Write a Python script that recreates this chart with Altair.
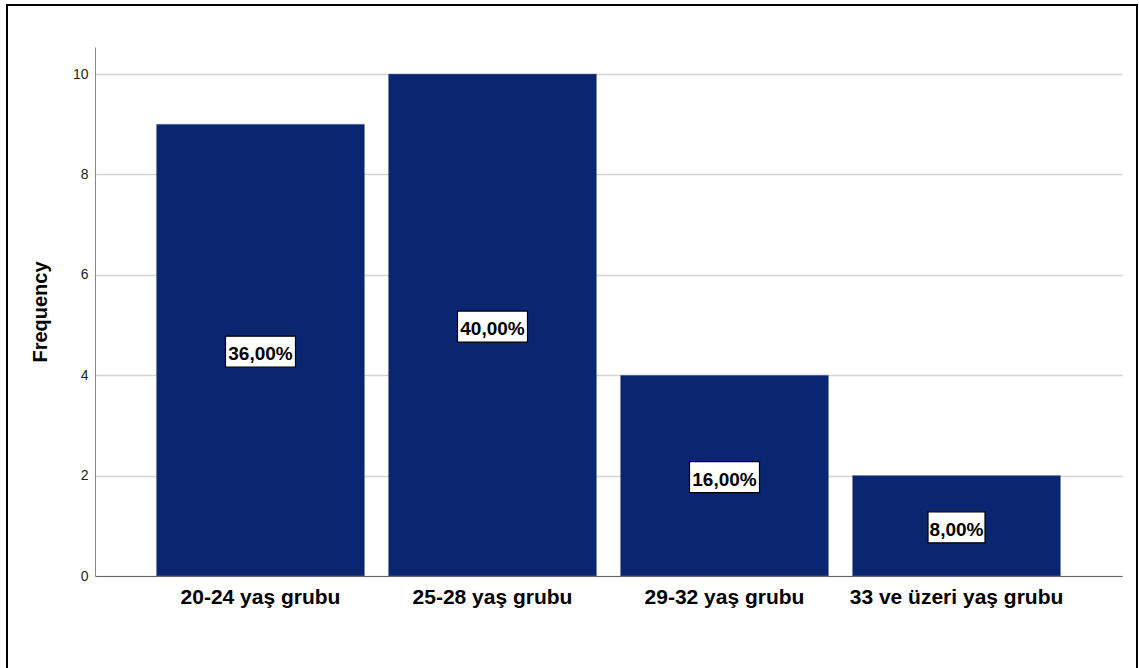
import altair as alt
import pandas as pd

categories = ["20-24 yaş grubu", "25-28 yaş grubu", "29-32 yaş grubu", "33 ve üzeri yaş grubu"]
frequencies = [9, 10, 4, 2]
percent_labels = ["36,00%", "40,00%", "16,00%", "8,00%"]

W, H = 1027, 529
YMAX = 10.54
ppu = H / YMAX  # pixels per unit
box_h = 28 / ppu

df = pd.DataFrame({"cat": categories, "freq": frequencies, "pct": percent_labels})
df["box_w"] = df["pct"].str.len() * 13 - 8
df["mid"] = df["freq"] / 2
df["lo"] = df["mid"] - box_h / 2
df["hi"] = df["mid"] + box_h / 2

FONT = "Liberation Sans"

xenc = alt.X(
    "cat:N",
    sort=categories,
    scale=alt.Scale(paddingInner=0.1034, paddingOuter=0.265),
    axis=alt.Axis(
        title=None, labelAngle=0, labelFont=FONT, labelFontSize=21, labelFontWeight="bold",
        labelColor="#000000", ticks=False, labelPadding=10, domainColor="#666666",
        domainWidth=1, grid=False, labelLimit=400,
    ),
)

bars = alt.Chart(df).mark_bar(color="#0b2670", stroke="#6c7fa8", strokeWidth=0.5).encode(
    x=xenc,
    y=alt.Y(
        "freq:Q",
        scale=alt.Scale(domain=[0, YMAX], nice=False),
        axis=alt.Axis(
            title="Frequency", values=[0, 2, 4, 6, 8, 10], labelFont=FONT, labelFontSize=14,
            labelColor="#222222", ticks=False, labelPadding=7, domainColor="#888888",
            gridColor="#d3d3d3", gridWidth=1.5, titleFont=FONT, titleFontSize=20,
            titleFontWeight="bold", titleColor="#000000", titleX=-49, titleBaseline="alphabetic",
        ),
    ),
)

boxes = alt.Chart(df).mark_bar(fill="white", stroke="black", strokeWidth=1.2, yOffset=3).encode(
    x=alt.X("cat:N", sort=categories),
    y="lo:Q",
    y2="hi:Q",
    size=alt.Size("box_w:Q", scale=None, legend=None),
)

texts = alt.Chart(df).mark_text(
    font=FONT, fontSize=19, fontWeight="bold", color="black", baseline="middle", dy=4
).encode(
    x=alt.X("cat:N", sort=categories),
    y="mid:Q",
    text="pct:N",
)

frame = alt.Chart(pd.DataFrame({"a": [0]})).mark_rect(
    fill=None, stroke="black", strokeWidth=2
).encode(
    x=alt.value(-88), x2=alt.value(1042), y=alt.value(-42), y2=alt.value(650)
)

chart = alt.layer(bars, boxes, texts, frame).properties(
    width=W, height=H,
    autosize=alt.AutoSizeParams(type="none"),
    padding={"left": 95, "top": 47, "right": 17, "bottom": 92},
).configure(background="white").configure_view(stroke=None)

chart.save("out.html", embed_options={"renderer": "svg", "actions": False})
